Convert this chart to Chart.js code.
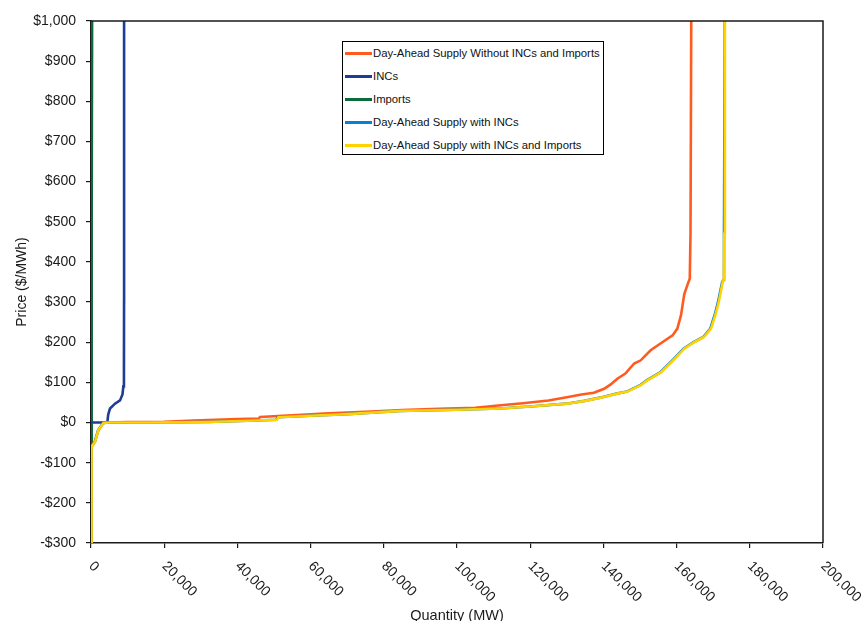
<!DOCTYPE html>
<html>
<head>
<meta charset="utf-8">
<script src="https://cdn.jsdelivr.net/npm/chart.js@4/dist/chart.umd.min.js"></script>
<style>
  html, body { margin: 0; padding: 0; background: #fff; }
  #wrap { position: relative; width: 865px; height: 621px; overflow: hidden; }
  #legend { position: absolute; left: 342px; top: 41px; width: 262px; height: 114px; border: 1px solid #000; background: #fff;
    font-family: "Liberation Sans", Arial, sans-serif; font-size: 11.3px; color: #111; box-sizing: border-box; }
  .row { position: absolute; left: 2px; height: 14px; line-height: 14px; white-space: nowrap; }
  .sw { position: absolute; left: 0; top: 6px; width: 27px; height: 2.6px; }
  .tx { position: absolute; left: 28px; top: 0; }
</style>
</head>
<body>
<div id="wrap">
  <canvas id="c" width="865" height="621"></canvas>
  <div id="legend"></div>
</div>
<script>
// ---- Data ----
const seriesNames = [
  "Day-Ahead Supply Without INCs and Imports",
  "INCs",
  "Imports",
  "Day-Ahead Supply with INCs",
  "Day-Ahead Supply with INCs and Imports"
];
const seriesColors = ["#FF5B1F", "#1F3D96", "#0B6B3A", "#0A7FD6", "#FFD200"];

// Day-Ahead Supply Without INCs and Imports
const supplyNoIncQ = [0, 100, 1000, 2000, 3300, 4500, 10000, 20000, 28000, 40000, 45800, 46200, 55000, 65000, 75000, 85000, 95000, 105000, 112000, 118000, 125000, 130000, 134000, 137400, 140200, 142000, 143800, 146000, 148400, 150200, 152900, 156100, 158900, 160200, 161200, 162100, 163200, 163600, 163800, 164000];
const supplyNoIncP = [-300, -60, -48, -20, -2, 0, 1, 2, 5, 9, 10, 14, 18, 23, 27, 31, 34, 37, 43, 48, 55, 63, 70, 74, 84, 95, 109, 122, 147, 155, 180, 200, 217, 234, 267, 320, 349, 358, 470, 1000];

// INCs
const incQ = [0, 4460, 4700, 5200, 6560, 7930, 8600, 8840, 9000, 9030, 9040];
const incP = [0, 0, 20, 35, 47, 55, 70, 90, 130, 300, 1000];

// Imports
const impQ = [0, 100, 200, 250, 300];
const impP = [-300, -150, 0, 500, 1000];

// Day-Ahead Supply with INCs
const supplyIncQ = [0, 120, 1050, 1950, 3300, 4800, 16000, 32000, 45000, 50600, 51000, 60000, 70000, 84300, 100000, 111700, 120000, 129900, 134800, 139100, 143600, 146400, 148200, 150000, 151800, 155500, 159100, 161900, 164600, 167300, 169200, 170500, 171400, 172450, 172800, 172950, 173150];
const supplyIncP = [-300, -60, -48, -19, -1, 0, 0, 1.5, 5, 7, 13, 17, 21, 29, 32, 35, 40, 47, 54, 62, 72, 77, 85, 93, 105, 125, 157, 184, 200, 213, 234, 271, 304, 350, 355, 470, 1000];

// Day-Ahead Supply with INCs and Imports
const supplyAllQ = [0, 150, 1100, 2000, 3400, 5000, 16000, 32000, 45000, 50800, 51200, 60000, 70000, 84500, 100000, 111900, 120000, 130100, 135000, 139300, 143800, 146600, 148400, 150200, 152000, 155700, 159300, 162100, 164800, 167500, 169400, 170700, 171600, 172600, 172900, 173000, 173200];
const supplyAllP = [-300, -60, -48, -19, -1, 0, 0, 1.5, 5, 7, 13, 17, 21, 29, 32, 35, 40, 47, 54, 62, 72, 77, 85, 93, 105, 125, 157, 184, 200, 213, 234, 271, 304, 350, 355, 470, 1000];

// Axis ticks
const xTickValues = [0, 20000, 40000, 60000, 80000, 100000, 120000, 140000, 160000, 180000, 200000];
const xTickLabels = ["0", "20,000", "40,000", "60,000", "80,000", "100,000", "120,000", "140,000", "160,000", "180,000", "200,000"];
const yTickValues = [-300, -200, -100, 0, 100, 200, 300, 400, 500, 600, 700, 800, 900, 1000];
const yTickLabels = ["-$300", "-$200", "-$100", "$0", "$100", "$200", "$300", "$400", "$500", "$600", "$700", "$800", "$900", "$1,000"];
const xTitle = "Quantity (MW)";
const yTitle = "Price ($/MWh)";

// ---- Build ----
function zip(q, p) { return q.map((v, i) => ({ x: v, y: p[i] })); }
const seriesData = [zip(supplyNoIncQ, supplyNoIncP), zip(incQ, incP), zip(impQ, impP), zip(supplyIncQ, supplyIncP), zip(supplyAllQ, supplyAllP)];
const drawOrder = [2, 3, 4, 1, 0]; // lower = drawn on top

const FONT = "'Liberation Sans', Arial, sans-serif";

const frame = {
  id: 'frame',
  afterDatasetsDraw(chart) {
    const a = chart.chartArea, ctx = chart.ctx;
    ctx.save();
    ctx.strokeStyle = '#1a1a1a';
    ctx.lineWidth = 1.5;
    ctx.beginPath();
    ctx.moveTo(a.left, a.top); ctx.lineTo(a.right, a.top); ctx.lineTo(a.right, a.bottom);
    ctx.stroke();
    ctx.restore();
  },
  afterDraw(chart) {
    const xs = chart.scales.x, ctx = chart.ctx;
    ctx.save();
    ctx.font = '14px ' + FONT;
    ctx.fillStyle = '#1a1a1a';
    ctx.textAlign = 'left';
    ctx.textBaseline = 'middle';
    xTickValues.forEach((v, i) => {
      const px = xs.getPixelForValue(v);
      ctx.save();
      ctx.translate(px, chart.chartArea.bottom + 21);
      ctx.rotate(Math.PI / 4);
      ctx.fillText(xTickLabels[i], 0, 0);
      ctx.restore();
    });
    ctx.restore();
  }
};

new Chart(document.getElementById('c'), {
  type: 'line',
  data: {
    datasets: seriesData.map((d, i) => ({
      label: seriesNames[i],
      data: d,
      borderColor: seriesColors[i],
      backgroundColor: seriesColors[i],
      borderWidth: 2.6,
      pointRadius: 0,
      tension: 0,
      fill: false,
      order: drawOrder[i]
    }))
  },
  options: {
    responsive: false,
    animation: false,
    parsing: true,
    layout: { padding: { left: 0, top: 21, right: 42, bottom: 0 } },
    plugins: { legend: { display: false }, tooltip: { enabled: false } },
    scales: {
      x: {
        type: 'linear',
        min: 0, max: 200000,
        afterFit(s) { s.height = 78; },
        afterBuildTicks(s) { s.ticks = xTickValues.map(v => ({ value: v })); },
        ticks: { color: 'rgba(0,0,0,0)', autoSkip: false, maxRotation: 0, minRotation: 0,
          font: { size: 14, family: FONT }, callback: (v) => xTickLabels[xTickValues.indexOf(v)] },
        grid: { drawOnChartArea: false, drawTicks: true, tickLength: 5, color: '#1a1a1a', lineWidth: 1.2 },
        border: { display: true, color: '#1a1a1a', width: 1.5 },
        title: { display: true, text: xTitle, color: '#1a1a1a', font: { size: 14.5, family: FONT, lineHeight: 1 }, padding: { top: 0, bottom: -2 } }
      },
      y: {
        type: 'linear',
        min: -300, max: 1000,
        afterFit(s) { s.width = 91; },
        afterBuildTicks(s) { s.ticks = yTickValues.map(v => ({ value: v })); },
        ticks: { color: '#1a1a1a', padding: 10, autoSkip: false,
          font: { size: 14, family: FONT }, callback: (v) => yTickLabels[yTickValues.indexOf(v)] },
        grid: { drawOnChartArea: false, drawTicks: true, tickLength: 5, color: '#1a1a1a', lineWidth: 1.2 },
        border: { display: true, color: '#1a1a1a', width: 1.5 },
        title: { display: true, text: yTitle, color: '#1a1a1a', font: { size: 14, family: FONT, lineHeight: 1.2 }, padding: { top: 14, bottom: 0 } }
      }
    }
  },
  plugins: [frame]
});

// ---- HTML legend ----
const legendEl = document.getElementById('legend');
const rowTops = [4, 27, 50, 73, 96];
seriesNames.forEach((name, i) => {
  const r = document.createElement('div');
  r.className = 'row';
  r.style.top = rowTops[i] + 'px';
  const sw = document.createElement('span');
  sw.className = 'sw';
  sw.style.background = seriesColors[i];
  const tx = document.createElement('span');
  tx.className = 'tx';
  tx.textContent = name;
  r.appendChild(sw); r.appendChild(tx);
  legendEl.appendChild(r);
});
</script>
</body>
</html>
